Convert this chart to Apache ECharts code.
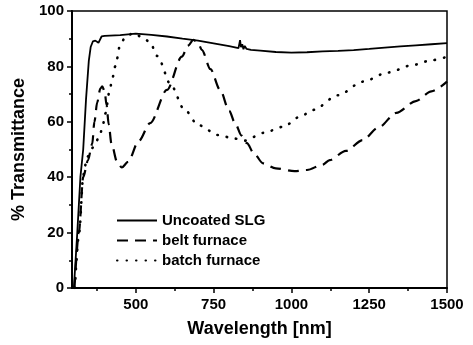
<!DOCTYPE html>
<html>
<head>
<meta charset="utf-8">
<script src="https://cdn.jsdelivr.net/npm/echarts@6/dist/echarts.min.js"></script>
<style>
  html, body { margin: 0; padding: 0; background: #fff; }
  #main { width: 473px; height: 345px; }
</style>
</head>
<body>
<div id="main"></div>
<script>
// values: wavelength (nm) and % transmittance
const seriesNames = ['Uncoated SLG', 'belt furnace', 'batch furnace']

const slgWavelength = [301, 312, 322, 331, 340, 349, 355, 362, 370, 380, 390, 400, 450, 500, 550, 600, 650, 700, 750, 800, 830,
  835, 838, 842, 846, 850, 856, 862, 870, 900, 950, 1000, 1050, 1100, 1150, 1200, 1250, 1300, 1350, 1400, 1450, 1500]
const slgValues = [0, 20, 40, 50, 68, 82, 87, 89, 89.3, 88.5, 90.8, 91, 91.3, 91.8, 91.4, 90.8, 90, 89.3, 88.3, 87.3, 86.6,
  89.5, 87, 88, 86.2, 87.4, 86.3, 86.8, 86, 85.7, 85.2, 85, 85.1, 85.4, 85.6, 85.9, 86.3, 86.8, 87.2, 87.6, 88, 88.4]

const beltWavelength = [303, 317, 331, 346, 360, 367, 376, 386, 392, 400, 406, 413, 422, 440, 455, 475, 509, 546, 600, 648, 668,
  685, 700, 712, 740, 771, 800, 819, 840, 857, 880, 909, 950, 1010, 1050, 1100, 1123, 1175, 1229, 1280, 1337, 1400, 1450, 1500]
const beltValues = [0, 20, 40, 46, 52, 60, 67, 72, 72.8, 71, 66, 59, 52, 45.5, 43.5, 45.5, 53, 59.5, 71.5, 83.5, 87.5,
  89.6, 88.5, 86, 79, 71.5, 64, 59.5, 55, 52.3, 48.5, 45, 43.2, 42.2, 42.6, 44.5, 46.2, 49.5, 53.4, 58, 63.2, 67.5, 71, 74.5]

const batchWavelength = [304, 318, 331, 335, 344, 365, 384, 394, 402, 416, 424, 434, 450, 466, 492, 525, 547, 568, 616, 653,
  701, 766, 814, 851, 910, 974, 1027, 1070, 1150, 1230, 1310, 1390, 1450, 1500]
const batchValues = [0, 20, 40, 43.3, 47.4, 51, 54.9, 58.8, 63, 71.2, 75.4, 80, 87.8, 90.5, 92, 90.3, 88.5, 83.8, 72.7, 64.9,
  58.8, 55.2, 54, 53.2, 56, 58.2, 61.8, 64.3, 69.6, 74.5, 77.8, 80.5, 82.2, 83.5]

const xMajorTicks = [500, 750, 1000, 1250, 1500]
const xMinorTicks = [375, 625, 875, 1125, 1375]

const pairs = (xs, ys) => xs.map((x, i) => [x, ys[i]])

const font = '"Liberation Sans", Arial, sans-serif'
const myChart = echarts.init(document.getElementById('main'))
myChart.setOption({
  animation: false,
  color: ['#000', '#000', '#000'],
  grid: {
    left: 72,
    top: 11,
    right: 26,
    bottom: 57,
    show: true,
    borderColor: '#000',
    borderWidth: 1.5
  },
  legend: {
    data: seriesNames,
    orient: 'vertical',
    left: 111,
    top: 208,
    itemWidth: 40,
    itemHeight: 14,
    itemGap: 5,
    itemStyle: { color: 'rgba(0,0,0,0)', borderWidth: 0 },
    textStyle: { fontFamily: font, fontWeight: 'bold', fontSize: 15, color: '#000' }
  },
  xAxis: [
    {
      type: 'value',
      min: 295,
      max: 1500,
      name: 'Wavelength [nm]',
      nameLocation: 'middle',
      nameGap: 32,
      nameTextStyle: { fontFamily: font, fontWeight: 'bold', fontSize: 18, color: '#000' },
      axisLine: { lineStyle: { color: '#000', width: 2 } },
      axisTick: { customValues: xMajorTicks, length: 5, lineStyle: { width: 1.5 } },
      axisLabel: {
        customValues: xMajorTicks,
        formatter: v => String(v),
        margin: 9,
        fontFamily: font,
        fontWeight: 'bold',
        fontSize: 15,
        color: '#000'
      },
      splitLine: { show: false }
    },
    {
      type: 'value',
      min: 295,
      max: 1500,
      position: 'bottom',
      axisLine: { show: false },
      axisTick: { customValues: xMinorTicks, length: 3, lineStyle: { color: '#000', width: 1.5 } },
      axisLabel: { show: false },
      splitLine: { show: false }
    }
  ],
  yAxis: {
    type: 'value',
    min: 0,
    max: 100,
    interval: 20,
    name: '% Transmittance',
    nameLocation: 'middle',
    nameGap: 41,
    nameTextStyle: { fontFamily: font, fontWeight: 'bold', fontSize: 18, color: '#000' },
    axisLine: { show: true, lineStyle: { color: '#000', width: 2 } },
    axisTick: { show: true, length: 5, lineStyle: { width: 1.5 } },
    minorTick: { show: true, splitNumber: 2, length: 3, lineStyle: { color: '#000', width: 1.5 } },
    axisLabel: { margin: 8, fontFamily: font, fontWeight: 'bold', fontSize: 15, color: '#000' },
    splitLine: { show: false }
  },
  series: [
    {
      name: seriesNames[0],
      type: 'line',
      symbol: 'none',
      data: pairs(slgWavelength, slgValues),
      lineStyle: { color: '#000', width: 1.8 }
    },
    {
      name: seriesNames[1],
      type: 'line',
      symbol: 'none',
      smooth: 0.3,
      smoothMonotone: 'x',
      data: pairs(beltWavelength, beltValues),
      lineStyle: { color: '#000', width: 2.2, type: [11, 7] }
    },
    {
      name: seriesNames[2],
      type: 'line',
      symbol: 'none',
      smooth: 0.3,
      smoothMonotone: 'x',
      data: pairs(batchWavelength, batchValues),
      lineStyle: { color: '#000', width: 2.6, type: [0.5, 9], cap: 'round' }
    }
  ]
})
</script>
</body>
</html>
